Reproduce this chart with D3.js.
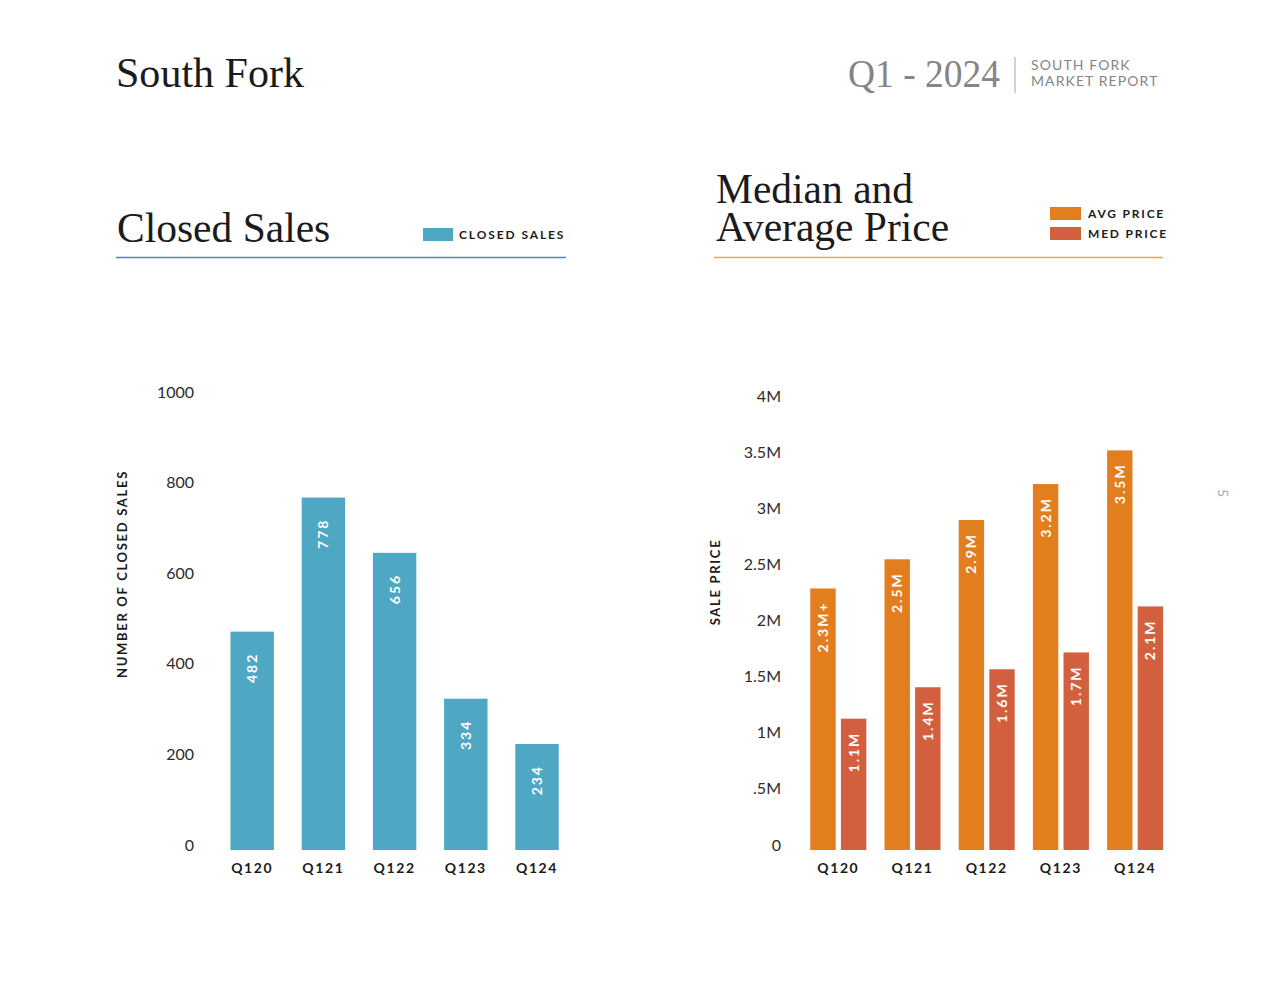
<!DOCTYPE html>
<html><head><meta charset="utf-8">
<script src="https://cdn.jsdelivr.net/npm/d3@7"></script>
<style>
html,body{margin:0;padding:0;background:#fff;}
svg{display:block;}
</style></head>
<body>
<svg id="chart" width="1280" height="989"></svg>
<script>
// ---- data ----
const quarters = ["Q120","Q121","Q122","Q123","Q124"];
const closedSales = [482, 778, 656, 334, 234];
const salesTicks = [0, 200, 400, 600, 800, 1000];
const avgPrice = [2.33e6, 2.59e6, 2.94e6, 3.26e6, 3.56e6];
const medPrice = [1.17e6, 1.45e6, 1.61e6, 1.76e6, 2.17e6];
const avgLabels = ["2.3M+","2.5M","2.9M","3.2M","3.5M"];
const medLabels = ["1.1M","1.4M","1.6M","1.7M","2.1M"];
const priceTicks = [0, 0.5e6, 1e6, 1.5e6, 2e6, 2.5e6, 3e6, 3.5e6, 4e6];
const priceTickLabels = ["0",".5M","1M","1.5M","2M","2.5M","3M","3.5M","4M"];
const seriesKeys = ["avg","med"];

const C = {blue:"#4ea8c3", avg:"#e27e1e", med:"#d2603f", ink:"#1b1b1b", gray:"#8a8a8a"};
const SERIF = "'Liberation Serif', 'DejaVu Serif', serif";
const SANS = "Lato, 'Open Sans', sans-serif";

const svg = d3.select("#chart");

// ---- header ----
svg.append("text").attr("x",116).attr("y",87).attr("font-family",SERIF).attr("font-size",42)
  .attr("fill",C.ink).attr("textLength",188).attr("lengthAdjust","spacing").text("South Fork");
svg.append("text").attr("x",848).attr("y",87).attr("font-family",SERIF)
  .attr("font-size",40).attr("fill","#858585").attr("textLength",152).attr("lengthAdjust","spacingAndGlyphs").text("Q1 - 2024");
svg.append("line").attr("x1",1015).attr("x2",1015).attr("y1",57).attr("y2",93).attr("stroke","#b5b5b5").attr("stroke-width",1.2);
svg.append("text").attr("x",1031).attr("y",70).attr("font-family",SANS).attr("font-size",14)
  .attr("fill","#858585").attr("letter-spacing",1.1).text("SOUTH FORK");
svg.append("text").attr("x",1031).attr("y",86).attr("font-family",SANS).attr("font-size",14)
  .attr("fill","#858585").attr("letter-spacing",1.1).text("MARKET REPORT");
svg.append("text").attr("transform","translate(1218,493) rotate(90)").attr("text-anchor","middle")
  .attr("font-family",SANS).attr("font-size",14).attr("fill","#a8a8a8").text("5");

// ---- left chart: closed sales ----
svg.append("text").attr("x",117).attr("y",242).attr("font-family",SERIF).attr("font-size",41.5)
  .attr("fill",C.ink).text("Closed Sales");
svg.append("line").attr("x1",116).attr("x2",566).attr("y1",257.5).attr("y2",257.5).attr("stroke","#5a7fb6").attr("stroke-width",1.5);
svg.append("rect").attr("x",423).attr("y",228).attr("width",30).attr("height",13).attr("fill",C.blue);
svg.append("text").attr("x",459).attr("y",239).attr("font-family",SANS).attr("font-weight",700)
  .attr("font-size",12).attr("letter-spacing",1.9).attr("fill",C.ink).text("CLOSED SALES");

const xL = d3.scaleBand().domain(quarters).range([216.6, 572.6]).paddingInner(0.39).paddingOuter(0.195);
const yL = d3.scaleLinear().domain([0,1000]).range([850, 397]);

const gL = svg.append("g");
gL.selectAll("rect.bar").data(quarters).join("rect").attr("class","bar")
  .attr("x",d=>xL(d)).attr("width",xL.bandwidth())
  .attr("y",(d,i)=>yL(closedSales[i])).attr("height",(d,i)=>yL(0)-yL(closedSales[i]))
  .attr("fill",C.blue);
gL.selectAll("text.val").data(quarters).join("text").attr("class","val")
  .attr("transform",(d,i)=>`translate(${xL(d)+xL.bandwidth()/2},${yL(closedSales[i])+21}) rotate(-90)`)
  .attr("text-anchor","end").attr("dy","0.36em").attr("font-family",SANS).attr("font-weight",700)
  .attr("font-size",14).attr("letter-spacing",2).attr("fill","#fff").text((d,i)=>closedSales[i]);

const axL = d3.axisLeft(yL).tickValues(salesTicks).tickFormat(d3.format("d")).tickSize(0).tickPadding(0);
const gAxL = svg.append("g").attr("transform","translate(194,0)").call(axL);
gAxL.select(".domain").remove();
gAxL.selectAll("text").attr("font-family",SANS).attr("font-size",16).attr("fill","#2b2b2b").attr("dy","0");
const axLB = d3.axisBottom(xL).tickSize(0).tickPadding(0);
const gAxLB = svg.append("g").attr("transform","translate(0,873)").call(axLB);
gAxLB.select(".domain").remove();
gAxLB.selectAll("text").attr("font-family",SANS).attr("font-weight",700).attr("font-size",14)
  .attr("letter-spacing",1.6).attr("fill",C.ink).attr("dy","0");
svg.append("text").attr("transform","translate(127,574) rotate(-90)").attr("text-anchor","middle")
  .attr("font-family",SANS).attr("font-weight",700).attr("font-size",13).attr("letter-spacing",1.7)
  .attr("fill",C.ink).text("NUMBER OF CLOSED SALES");

// ---- right chart: prices ----
const titleR = svg.append("text").attr("font-family",SERIF).attr("font-size",41.5).attr("fill",C.ink);
titleR.append("tspan").attr("x",716).attr("y",203).text("Median and");
titleR.append("tspan").attr("x",716).attr("y",241).text("Average Price");
svg.append("line").attr("x1",714).attr("x2",1163).attr("y1",257.5).attr("y2",257.5).attr("stroke","#e2a553").attr("stroke-width",1.5);
const legendR = [{k:"avg",t:"AVG PRICE",y:207},{k:"med",t:"MED PRICE",y:227}];
legendR.forEach(l=>{
  svg.append("rect").attr("x",1050).attr("y",l.y).attr("width",31).attr("height",13).attr("fill",C[l.k]);
  svg.append("text").attr("x",1088).attr("y",l.y+11).attr("font-family",SANS).attr("font-weight",700)
    .attr("font-size",12).attr("letter-spacing",1.8).attr("fill",C.ink).text(l.t);
});

const xR = d3.scaleBand().domain(quarters).range([801.2, 1172.2]).paddingInner(0.245).paddingOuter(0.1225);
const xR2 = d3.scaleBand().domain(seriesKeys).range([0, xR.bandwidth()]).paddingInner(0.17).paddingOuter(0);
const yR = d3.scaleLinear().domain([0,4e6]).range([850, 401]);
const priceRows = quarters.map((q,i)=>({q, avg:avgPrice[i], med:medPrice[i], avgL:avgLabels[i], medL:medLabels[i]}));

const gR = svg.append("g");
const grp = gR.selectAll("g.grp").data(priceRows).join("g").attr("class","grp")
  .attr("transform",d=>`translate(${xR(d.q)},0)`);
grp.selectAll("rect").data(d=>seriesKeys.map(k=>({k, v:d[k], l:d[k+"L"]}))).join("rect")
  .attr("x",d=>xR2(d.k)).attr("width",xR2.bandwidth())
  .attr("y",d=>yR(d.v)).attr("height",d=>yR(0)-yR(d.v)).attr("fill",d=>C[d.k]);
grp.selectAll("text").data(d=>seriesKeys.map(k=>({k, v:d[k], l:d[k+"L"]}))).join("text")
  .attr("transform",d=>`translate(${xR2(d.k)+xR2.bandwidth()/2},${yR(d.v)+13}) rotate(-90)`)
  .attr("text-anchor","end").attr("dy","0.36em").attr("font-family",SANS).attr("font-weight",700)
  .attr("font-size",14).attr("letter-spacing",2).attr("fill","#fff").text(d=>d.l);

const axR = d3.axisLeft(yR).tickValues(priceTicks).tickFormat((d,i)=>priceTickLabels[i]).tickSize(0).tickPadding(0);
const gAxR = svg.append("g").attr("transform","translate(781,0)").call(axR);
gAxR.select(".domain").remove();
gAxR.selectAll("text").attr("font-family",SANS).attr("font-size",16).attr("fill","#2b2b2b").attr("dy","0");
const axRB = d3.axisBottom(xR).tickSize(0).tickPadding(0);
const gAxRB = svg.append("g").attr("transform","translate(0,873)").call(axRB);
gAxRB.select(".domain").remove();
gAxRB.selectAll("text").attr("font-family",SANS).attr("font-weight",700).attr("font-size",14)
  .attr("letter-spacing",1.6).attr("fill",C.ink).attr("dy","0");
svg.append("text").attr("transform","translate(720,582) rotate(-90)").attr("text-anchor","middle")
  .attr("font-family",SANS).attr("font-weight",700).attr("font-size",13).attr("letter-spacing",1.7)
  .attr("fill",C.ink).text("SALE PRICE");
</script>
</body></html>
